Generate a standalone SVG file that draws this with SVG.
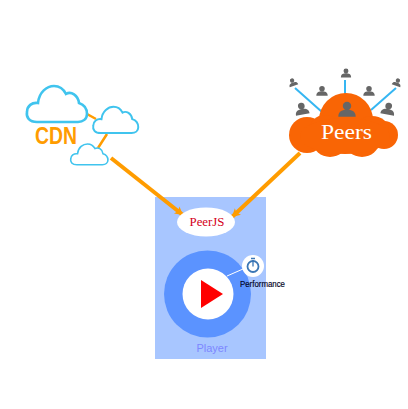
<svg xmlns="http://www.w3.org/2000/svg" width="408" height="409" viewBox="0 0 408 409">
<style>
.cloud{fill:#fff;stroke:#40c4ee;stroke-width:2.6;vector-effect:non-scaling-stroke}
.link{stroke:#ff9c00;fill:none;stroke-linecap:butt}
.ray{stroke:#36b6f2;stroke-width:2;fill:none}
.p{fill:#666}
.serif{font-family:"Liberation Serif","DejaVu Serif",serif}
.sans{font-family:"Liberation Sans",Arial,sans-serif}
</style>
<defs>
<path id="c" d="M37 122C29 122 26 117 27 112C27 106 32 102 38 103C39 92 47 86 54 86C61 86 64 90 66 94C71 91 78 95 79 103C85 105 87 110 87 114C87 119 83 122 78 122Z"/>
<g id="person"><circle cx="0" cy="-3.500" r="2.900"/><path d="M-6 4C-6 0 -3 -0.800 0 -0.800C3 -0.800 6 0 6 4Z"/></g>
<marker id="arr" markerUnits="userSpaceOnUse" markerWidth="9" markerHeight="9" refX="9" refY="5" orient="auto" viewBox="0 0 10 10"><path d="M0 0L9 5L0 10L2 5Z" fill="#ff9c00"/></marker>
</defs>
<rect width="408" height="409" fill="#fff"/>
<g id="player">
<rect x="155" y="197" width="111" height="162" fill="#a8c6ff"/>
<circle cx="207.500" cy="294" r="43.500" fill="#5b93ff"/>
<circle cx="208" cy="294" r="25.500" fill="#fff"/>
<path d="M201 280V308L223 294Z" fill="#f00"/>
<text class="sans" x="212" y="352" font-size="11" fill="#7d86ff" text-anchor="middle">Player</text>
</g>
<g id="connectors">
<path class="link" stroke-width="2.500" d="M87 114L96 119M107 134L98 148"/>
<path class="link" stroke-width="4" d="M111 158L183 215" marker-end="url(#arr)"/>
<path class="link" stroke-width="4" d="M300 153L232 217" marker-end="url(#arr)"/>
<path d="M227 276L243 269" stroke="#fff" stroke-width="1" fill="none"/>
</g>
<g id="cdn">
<use href="#c" class="cloud"/>
<use href="#c" class="cloud" transform="translate(73 44) scale(.75 .73)"/>
<use href="#c" class="cloud" transform="translate(54 94) scale(.62 .58)"/>
<text class="sans" x="35" y="144" font-size="23" font-weight="bold" fill="#ff9c00" textLength="42" lengthAdjust="spacingAndGlyphs">CDN</text>
</g>
<g id="peers">
<path class="ray" d="M322 112L295 88M345 80V94M371 110L396 88"/>
<g class="p">
<use href="#person" transform="translate(293 83) rotate(-20) scale(.75)"/>
<use href="#person" transform="translate(322 92) scale(.95)"/>
<use href="#person" transform="translate(346 74) scale(.85)"/>
<use href="#person" transform="translate(369 92) scale(.95)"/>
<use href="#person" transform="translate(397 83) rotate(20) scale(.75)"/>
<use href="#person" transform="translate(302 110) rotate(-10) scale(1.150)"/>
<use href="#person" transform="translate(388 110) rotate(10) scale(1.150)"/>
</g>
<g fill="#f96505">
<ellipse cx="346" cy="120" rx="27" ry="27"/>
<circle cx="307" cy="135" r="18"/>
<circle cx="384" cy="135" r="14"/>
<ellipse cx="325" cy="130" rx="16" ry="15"/>
<ellipse cx="372" cy="130" rx="17" ry="14"/>
<ellipse cx="330" cy="142" rx="17" ry="15"/>
<ellipse cx="362" cy="142" rx="17" ry="15"/>
<ellipse cx="345" cy="136" rx="45" ry="18"/>
</g>
<use href="#person" class="p" transform="translate(347 111) scale(1.450)"/>
<text class="serif" x="321" y="139" font-size="21" fill="#fff" textLength="51" lengthAdjust="spacingAndGlyphs">Peers</text>
</g>
<g id="peerjs">
<ellipse cx="206" cy="222" rx="29" ry="14.500" fill="#fff"/>
<text class="serif" x="189.500" y="226" font-size="11.500" fill="#d4001a" textLength="35" lengthAdjust="spacingAndGlyphs">PeerJS</text>
</g>
<g id="performance">
<circle cx="253" cy="266" r="11" fill="#fff"/>
<circle cx="253" cy="266.500" r="5.500" fill="none" stroke="#3a76b5" stroke-width="1.800"/>
<path d="M251 258.500H255M253 260V266.500" stroke="#3a76b5" stroke-width="1.300" fill="none"/>
<text class="sans" x="240" y="287" font-size="8.500" fill="#000020" stroke="#000020" stroke-width=".15" textLength="45" lengthAdjust="spacingAndGlyphs">Performance</text>
</g>
</svg>
